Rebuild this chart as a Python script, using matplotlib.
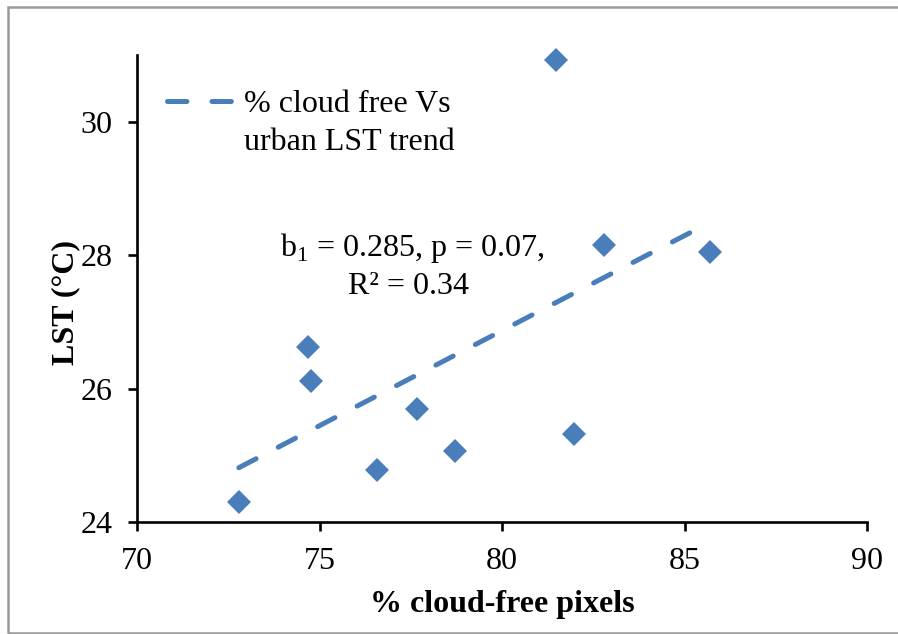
import numpy as np
import matplotlib
matplotlib.use("Agg")
import matplotlib.pyplot as plt
from matplotlib.lines import Line2D
from matplotlib.patches import Rectangle

plt.rcParams['font.family'] = ['Liberation Serif', 'DejaVu Serif']
plt.rcParams['mathtext.fontset'] = 'custom'
plt.rcParams['mathtext.rm'] = 'Liberation Serif'
plt.rcParams['lines.scale_dashes'] = False

# data
cloud_free = [72.79, 74.69, 74.78, 76.58, 77.68, 78.72, 81.48, 81.98, 82.79, 85.70]
lst = [24.31, 26.63, 26.11, 24.79, 25.69, 25.07, 30.93, 25.32, 28.16, 28.05]
x_ticks = [70, 75, 80, 85, 90]
y_ticks = [24, 26, 28, 30]

blue = '#4a7ebb'
fs = 23

fig = plt.figure(figsize=(8.98, 6.34), dpi=100)
ax = fig.add_axes([137/898, 1 - 522.3/634, 730/898, 467.3/634])

# linear trend (least squares)
x = np.array(cloud_free)
y = np.array(lst)
slope, icpt = np.polyfit(x, y, 1)
xt = np.array([x.min(), x.max()])
trend, = ax.plot(xt, slope * xt + icpt, color=blue, lw=3.6,
                 dash_capstyle='round', zorder=2)
trend.set_dashes([14, 18])

ax.plot(x, y, 'D', ms=12.5, color=blue, mew=0, zorder=3, clip_on=False)

ax.set_xlim(70, 90)
ax.set_ylim(24, 31)
ax.set_xticks(x_ticks)
ax.set_yticks(y_ticks)
for s in ['top', 'right']:
    ax.spines[s].set_visible(False)
for s in ['left', 'bottom']:
    ax.spines[s].set_linewidth(1.9)
ax.tick_params(axis='both', labelsize=fs, width=1.9, length=6.5, colors='black')
ax.tick_params(axis='y', pad=11)
ax.tick_params(axis='x', pad=11)

ax.set_xlabel('% cloud-free pixels', fontsize=fs, fontweight='bold')
ax.set_ylabel('LST (°C)', fontsize=fs, fontweight='bold')
ax.xaxis.set_label_coords(0.5, -0.145)
ax.yaxis.set_label_coords(-0.078, 0.47)

ax.text(77.55, 28.11, r'b$_{\mathrm{1}}$ = 0.285, p = 0.07,', fontsize=fs,
        ha='center', va='center')
ax.text(77.45, 27.53, 'R² = 0.34', fontsize=fs, ha='center', va='center')

handles = [trend, Line2D([], [], alpha=0)]
labels = ['% cloud free Vs', 'urban LST trend']
ax.legend(handles, labels, loc='upper left', bbox_to_anchor=(0.041, 0.925),
          frameon=False, fontsize=fs, handlelength=2.0, handletextpad=0.4,
          labelspacing=0.25, borderaxespad=0, borderpad=0)

# grey frame around the image
fig.add_artist(Rectangle((8/898, 1.5/634), 1.2, 625.5/634, transform=fig.transFigure,
                         fill=False, edgecolor='#999999', lw=1.8))

fig.savefig('out.png', dpi=100)
